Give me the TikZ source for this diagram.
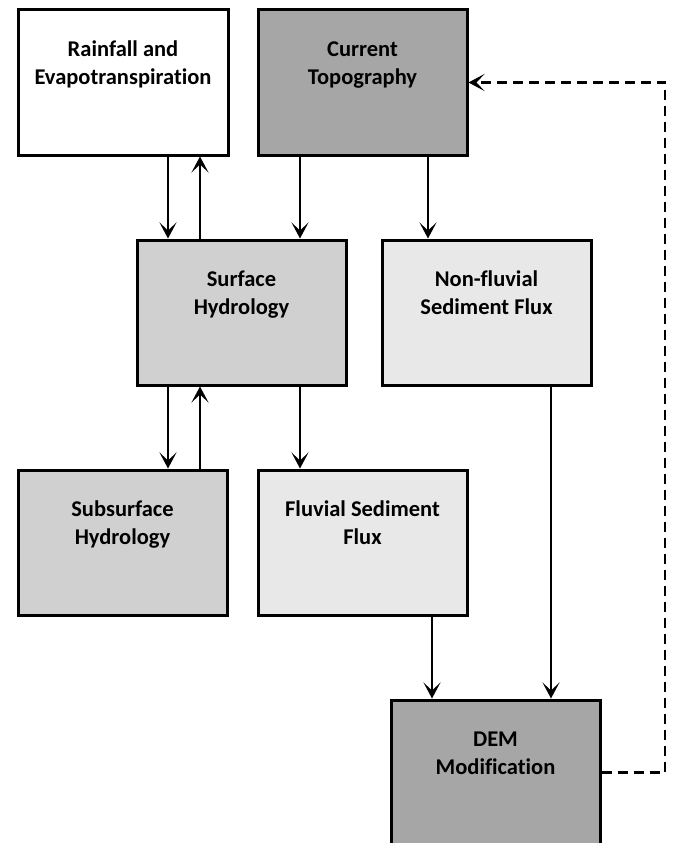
\documentclass[tikz,border=0pt]{standalone}
\usepackage{fontspec}
\setmainfont{Carlito}[Ligatures=NoCommon]
\usetikzlibrary{arrows.meta}
\definecolor{dark}{HTML}{A6A6A6}
\definecolor{mid}{HTML}{D0D0D0}
\definecolor{light}{HTML}{E8E8E8}
\tikzset{
  box/.style={draw=black, line width=3pt, minimum width=209pt, minimum height=145pt, inner sep=0pt},
  lbl/.style={anchor=north, yshift=-28pt, inner sep=0pt, align=center, font=\fontsize{22.5pt}{28pt}\selectfont\bfseries},
  headtip/.style={-{Stealth[length=16pt,width=17pt,inset=8pt]}},
  arr/.style={line width=2.5pt, headtip},
  fb/.style={line width=2.5pt, dash pattern=on 10pt off 6pt, headtip}
}
\begin{document}
\begin{tikzpicture}[x=1pt,y=-1pt]
\useasboundingbox (0,0) rectangle (675,843);
\clip (0,0) rectangle (675,843);
\fill[white] (0,0) rectangle (675,843);
\node[box, fill=white, minimum width=210pt, label={[lbl]north:\strut Rainfall and\\Evapotranspiration}] (rain) at (123,82.5) {};
\node[box, fill=dark, label={[lbl]north:\strut Current\\Topography}] (topo) at (362.5,82.5) {};
\node[box, fill=mid, label={[lbl]north:\strut Surface\\Hydrology}] (surf) at (241.5,312.5) {};
\node[box, fill=light, label={[lbl]north:\strut Non-fluvial\\Sediment Flux}] (nonf) at (486.5,312.5) {};
\node[box, fill=mid, label={[lbl]north:\strut Subsurface\\Hydrology}] (sub) at (122.5,542.5) {};
\node[box, fill=light, label={[lbl]north:\strut Fluvial Sediment\\Flux}] (fluv) at (362.5,542.5) {};
\node[box, fill=dark, label={[lbl]north:\strut DEM\\Modification}] (dem) at (495.5,772.5) {};
\coordinate (xa) at (168,0);
\coordinate (xb) at (200,0);
\coordinate (xc) at (300,0);
\coordinate (xd) at (428,0);
\coordinate (xe) at (432,0);
\coordinate (xf) at (551,0);
\coordinate (fr) at (665,0);
\draw[arr] (rain.south -| xa) -- (surf.north -| xa);
\draw[arr] (surf.north -| xb) -- (rain.south -| xb);
\draw[arr] (topo.south -| xc) -- (surf.north -| xc);
\draw[arr] (topo.south -| xd) -- (nonf.north -| xd);
\draw[arr] (surf.south -| xa) -- (sub.north -| xa);
\draw[arr] (sub.north -| xb) -- (surf.south -| xb);
\draw[arr] (surf.south -| xc) -- (fluv.north -| xc);
\draw[arr] (fluv.south -| xe) -- (dem.north -| xe);
\draw[arr] (nonf.south -| xf) -- (dem.north -| xf);
\draw[fb] (dem.east) -- (dem.east -| fr) -- (topo.east -| fr) -- (topo.east);
\end{tikzpicture}
\end{document}
